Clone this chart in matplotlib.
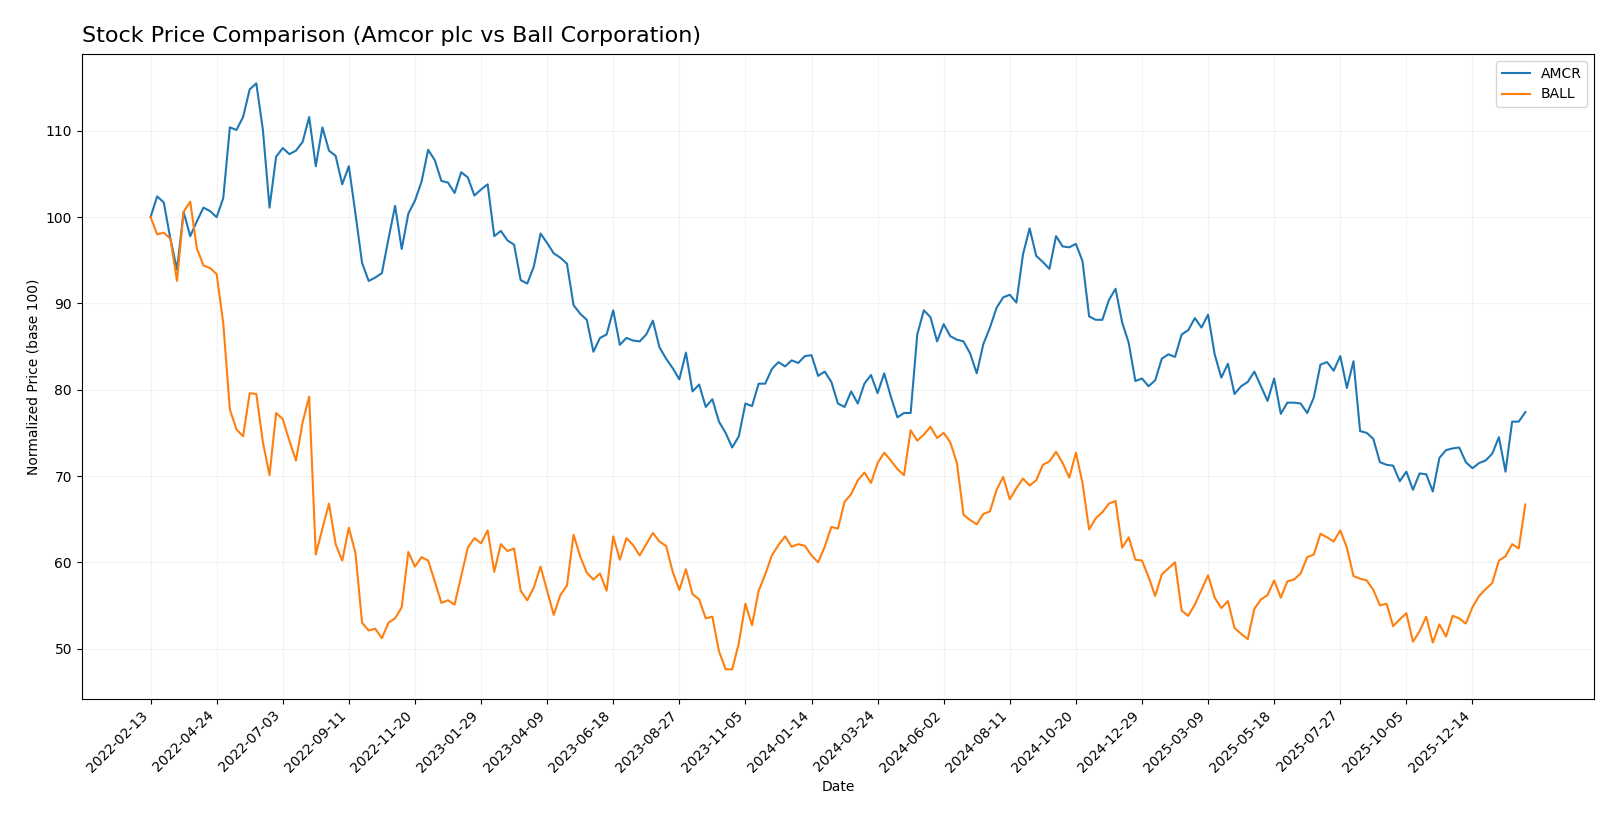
import matplotlib
matplotlib.use("Agg")
import matplotlib.pyplot as plt
import pandas as pd

# weekly closes, normalized to 100 at the first week
start_date = "2022-02-13"

amcr = [100.0, 102.4, 101.7, 97.5, 93.9, 100.6, 97.8, 99.5, 101.1, 100.7,
        100.0, 102.2, 110.4, 110.1, 111.6, 114.8, 115.5, 110.1, 101.1, 107.0,
        108.0, 107.3, 107.7, 108.7, 111.6, 105.9, 110.4, 107.7, 107.1, 103.8,
        105.9, 100.4, 94.7, 92.6, 93.0, 93.5, 97.5, 101.3, 96.3, 100.4,
        101.9, 104.1, 107.8, 106.6, 104.2, 104.0, 102.8, 105.2, 104.6, 102.5,
        103.2, 103.8, 97.8, 98.4, 97.3, 96.8, 92.7, 92.3, 94.3, 98.1,
        97.0, 95.8, 95.3, 94.6, 89.8, 88.8, 88.1, 84.4, 86.0, 86.4,
        89.2, 85.2, 86.0, 85.7, 85.6, 86.4, 88.0, 84.9, 83.6, 82.5,
        81.2, 84.3, 79.8, 80.6, 78.0, 78.9, 76.3, 75.0, 73.3, 74.6,
        78.4, 78.1, 80.7, 80.7, 82.4, 83.2, 82.7, 83.4, 83.1, 83.9,
        84.0, 81.6, 82.1, 80.9, 78.4, 78.0, 79.8, 78.4, 80.7, 81.7,
        79.6, 81.9, 79.2, 76.8, 77.3, 77.3, 86.4, 89.2, 88.4, 85.6,
        87.6, 86.2, 85.8, 85.6, 84.2, 81.9, 85.3, 87.2, 89.5, 90.7,
        91.0, 90.1, 95.7, 98.7, 95.5, 94.8, 94.0, 97.8, 96.6, 96.5,
        96.9, 94.9, 88.5, 88.1, 88.1, 90.4, 91.7, 87.8, 85.4, 81.0,
        81.3, 80.4, 81.1, 83.6, 84.1, 83.8, 86.4, 86.9, 88.3, 87.2,
        88.7, 84.1, 81.4, 83.0, 79.5, 80.4, 80.9, 82.1, 80.4, 78.7,
        81.3, 77.2, 78.5, 78.5, 78.4, 77.3, 79.1, 82.9, 83.2, 82.2,
        83.9, 80.2, 83.3, 75.2, 75.0, 74.3, 71.6, 71.3, 71.2, 69.4,
        70.5, 68.4, 70.3, 70.2, 68.2, 72.1, 73.0, 73.2, 73.3, 71.6,
        70.9, 71.5, 71.8, 72.6, 74.5, 70.5, 76.3, 76.3, 77.4]

ball = [100.0, 98.0, 98.2, 97.5, 92.6, 100.6, 101.8, 96.4, 94.4, 94.1,
        93.4, 87.7, 77.7, 75.4, 74.6, 79.6, 79.5, 73.9, 70.1, 77.3,
        76.6, 74.1, 71.8, 76.2, 79.2, 60.9, 63.9, 66.8, 62.1, 60.2,
        64.0, 61.1, 53.0, 52.1, 52.3, 51.2, 53.0, 53.5, 54.8, 61.2,
        59.5, 60.6, 60.2, 57.8, 55.3, 55.6, 55.1, 58.4, 61.7, 62.8,
        62.2, 63.7, 58.9, 62.1, 61.3, 61.6, 56.7, 55.6, 57.1, 59.5,
        56.7, 53.9, 56.2, 57.3, 63.2, 60.7, 58.8, 58.0, 58.7, 56.7,
        63.0, 60.3, 62.8, 62.0, 60.8, 62.1, 63.4, 62.4, 61.9, 58.9,
        56.8, 59.2, 56.3, 55.7, 53.5, 53.7, 49.7, 47.6, 47.6, 50.6,
        55.2, 52.7, 56.7, 58.6, 60.8, 62.0, 63.0, 61.8, 62.1, 61.9,
        60.8, 60.0, 61.8, 64.1, 63.9, 67.0, 67.9, 69.5, 70.4, 69.2,
        71.5, 72.7, 71.8, 70.8, 70.1, 75.3, 74.1, 74.8, 75.7, 74.4,
        75.0, 73.9, 71.5, 65.5, 64.9, 64.4, 65.6, 65.9, 68.4, 69.9,
        67.3, 68.6, 69.7, 68.9, 69.5, 71.3, 71.7, 72.8, 71.5, 69.8,
        72.7, 69.2, 63.8, 65.1, 65.8, 66.8, 67.1, 61.7, 62.9, 60.3,
        60.2, 58.3, 56.1, 58.6, 59.3, 60.0, 54.4, 53.8, 55.1, 56.8,
        58.5, 55.9, 54.7, 55.5, 52.4, 51.7, 51.1, 54.6, 55.7, 56.2,
        57.9, 55.9, 57.8, 58.0, 58.7, 60.6, 60.9, 63.3, 62.9, 62.4,
        63.7, 61.7, 58.4, 58.1, 57.9, 56.8, 55.0, 55.2, 52.6, 53.4,
        54.1, 50.8, 52.0, 53.7, 50.7, 52.8, 51.4, 53.8, 53.5, 52.9,
        54.8, 56.1, 56.9, 57.6, 60.2, 60.7, 62.1, 61.6, 66.7]

tickers = ["AMCR", "BALL"]

dates = pd.date_range(start_date, periods=len(amcr), freq="W-SUN")

fig = plt.figure(figsize=(16.2, 8.19), dpi=100)
ax = fig.add_subplot(111)
fig.subplots_adjust(left=0.0505, right=0.984, top=0.934, bottom=0.147)

ax.plot(dates, amcr, label=tickers[0], linewidth=1.5)
ax.plot(dates, ball, label=tickers[1], linewidth=1.5)

tick_dates = dates[::10]
ax.set_xticks(tick_dates)
ax.set_xticklabels([d.strftime("%Y-%m-%d") for d in tick_dates],
                   rotation=45, ha="right")

ax.set_title("Stock Price Comparison (Amcor plc vs Ball Corporation)",
             loc="left", fontsize=16, pad=9)
ax.set_xlabel("Date")
ax.set_ylabel("Normalized Price (base 100)")
ax.grid(True, alpha=0.15)
ax.legend(loc="upper right")

plt.savefig("out.png", dpi=100)
